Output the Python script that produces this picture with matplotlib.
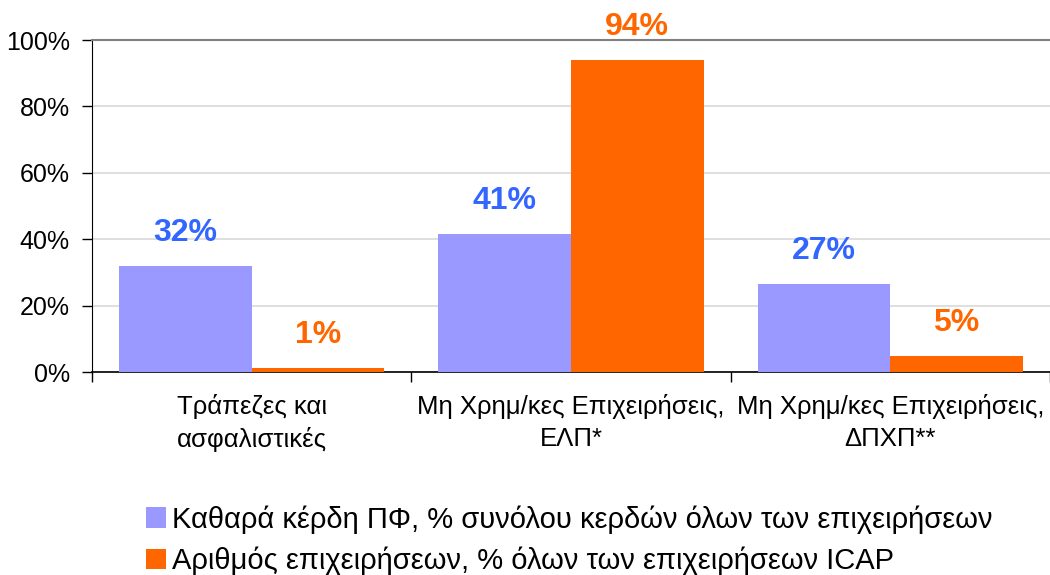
import matplotlib.pyplot as plt
import numpy as np

categories = ['Τράπεζες και\nασφαλιστικές',
              'Μη Χρημ/κες Επιχειρήσεις,\nΕΛΠ*',
              'Μη Χρημ/κες Επιχειρήσεις,\nΔΠΧΠ**']
profits = [32, 41.5, 26.5]
firms = [1.2, 94, 4.8]
profit_labels = ['32%', '41%', '27%']
firm_labels = ['1%', '94%', '5%']
series_names = ['Καθαρά κέρδη ΠΦ, % συνόλου κερδών όλων των επιχειρήσεων',
                'Αριθμός επιχειρήσεων, % όλων των επιχειρήσεων ICAP']

plt.rcParams['font.family'] = ['Liberation Sans', 'DejaVu Sans']

blue = '#9999FF'
orange = '#FF6600'
blue_txt = '#3366FF'

fig = plt.figure(figsize=(10.5, 5.75), dpi=100)
ax = fig.add_axes([92 / 1050, 1 - 372 / 575, (1050 - 92) / 1050, 332 / 575])

x = np.arange(len(categories))
w = 0.415
b1 = ax.bar(x - w / 2, profits, w, color=blue, label=series_names[0], zorder=3)
b2 = ax.bar(x + w / 2, firms, w, color=orange, label=series_names[1], zorder=3)

# value labels above bars
for xi, v, t in zip(x, profits, profit_labels):
    ax.text(xi - w / 2, v + 10, t, ha='center', va='center', fontsize=23,
            fontweight='bold', color=blue_txt)
for xi, v, t in zip(x, firms, firm_labels):
    ax.text(xi + w / 2, v + 10, t, ha='center', va='center', fontsize=23,
            fontweight='bold', color=orange)

ax.set_xlim(-0.5, 2.5)
ax.set_ylim(0, 100)
ax.set_yticks(range(0, 101, 20))
ax.set_yticklabels([f'{v}%' for v in range(0, 101, 20)])
ax.yaxis.grid(True, color='#D9D9D9', linewidth=1.2, zorder=0)

ax.set_xticks(x)
ax.set_xticklabels(categories, linespacing=1.4)
ax.set_xticks([-0.5, 0.5, 1.5, 2.5], minor=True)
ax.tick_params(axis='x', which='major', length=0, pad=16, labelsize=18.5)
ax.tick_params(axis='x', which='minor', length=7, width=1, color='black')
ax.tick_params(axis='y', length=7, width=1, pad=9, labelsize=18)

ax.spines['top'].set_color('#808080')
ax.spines['top'].set_linewidth(1.5)
ax.spines['right'].set_visible(False)
ax.spines['left'].set_color('black')
ax.spines['bottom'].set_color('black')
ax.spines['bottom'].set_linewidth(1.2)

fig.legend(handles=[b1, b2], loc='upper left',
           bbox_to_anchor=(146 / 1050, 1 - 505 / 575), frameon=False,
           fontsize=21, handlelength=0.7, handleheight=0.7,
           handletextpad=0.2, labelspacing=0.45, borderpad=0, borderaxespad=0)

fig.savefig('out.png', dpi=100)
